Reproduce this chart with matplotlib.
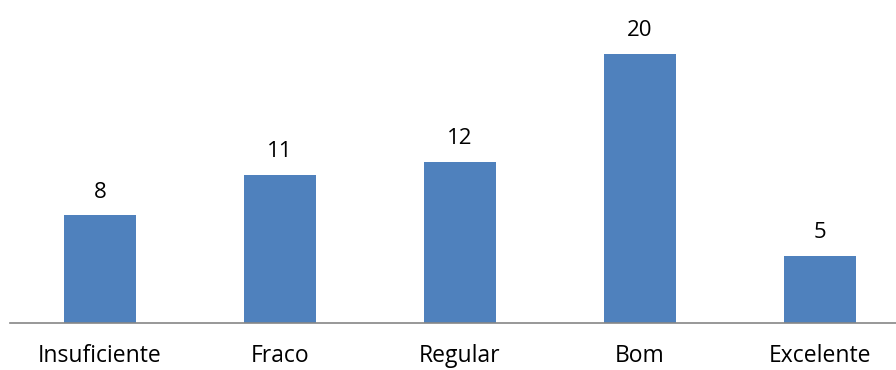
import matplotlib
matplotlib.use('Agg')
import matplotlib.pyplot as plt

# data
categories = ['Insuficiente', 'Fraco', 'Regular', 'Bom', 'Excelente']
values = [8, 11, 12, 20, 5]

plt.rcParams['font.family'] = ['Open Sans', 'DejaVu Sans']

fig = plt.figure(figsize=(8.96, 3.70), dpi=100)
# axis spans 900 px starting at x=10, so it runs past the right edge
ax = fig.add_axes([10 / 896, 47 / 370, 900 / 896, 323 / 370])

x = range(len(categories))
bars = ax.bar(x, values, width=0.4, color='#4F81BD', zorder=2)

for b, v in zip(bars, values):
    ax.annotate(str(v), (b.get_x() + b.get_width() / 2, v),
                xytext=(0, 9), textcoords='offset points',
                ha='center', va='bottom', fontsize=16)

ax.set_xlim(-0.5, 4.5)
ax.set_ylim(0, 24)
ax.set_xticks(list(x))
ax.set_xticklabels(categories, fontsize=16.5)
ax.tick_params(axis='x', length=0, pad=15)
ax.set_yticks([])
for side in ['top', 'right', 'left']:
    ax.spines[side].set_visible(False)
ax.spines['bottom'].set_color('#868686')
ax.spines['bottom'].set_linewidth(1.2)

fig.savefig('out.png', dpi=100)
